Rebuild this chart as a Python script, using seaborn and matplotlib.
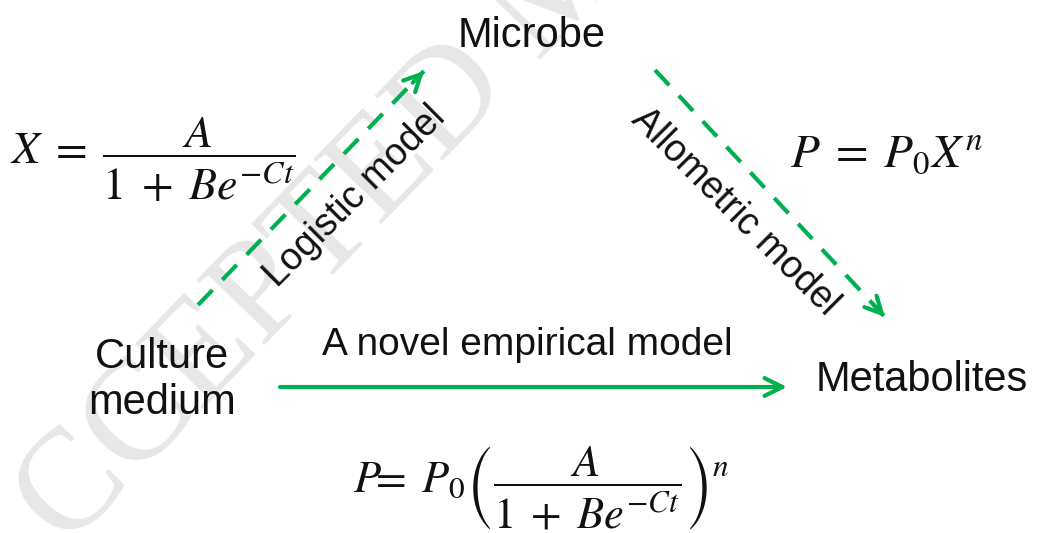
import matplotlib.pyplot as plt
import seaborn as sns

sns.set_theme(style="white")
plt.rcParams["font.family"] = ["Liberation Sans", "DejaVu Sans"]
plt.rcParams["mathtext.fontset"] = "stix"

GREEN = "#00b050"

# nodes of the diagram (pixel coords, y down)
node_names = ["Microbe", "Culture\nmedium", "Metabolites"]
node_xy = [(532, 36), (162, 380), (922, 380)]

# model arrows: start, end, label, label position, label angle, dashed
arrow_starts = [(198, 305), (655, 70), (280, 387)]
arrow_ends = [(424, 71), (885, 317), (787, 387)]
arrow_labels = ["Logistic model", "Allometric model", "A novel empirical model"]
label_xy = [(355, 197), (735, 212), (527, 345)]
label_rot = [45, -45, 0]
label_size = [27, 27, 28]
arrow_dashed = [True, True, False]

# equations
eq_texts = [
    r"$X\;=\;\dfrac{A}{1\;+\;Be^{-Ct}}$",
    r"$P\;=\;P_0X^n$",
    r"$P\!\!=\;P_0\left(\dfrac{A}{1\;+\;Be^{-Ct}}\right)^n$",
]
eq_xy = [(10, 160), (790, 155), (353, 488)]
eq_size = [33, 34, 32]

fig = plt.figure(figsize=(10.38, 5.33), dpi=100)
ax = fig.add_axes([0, 0, 1, 1])
ax.set_xlim(0, 1038)
ax.set_ylim(533, 0)
ax.axis("off")

# faint watermark
ax.text(565, -15, "ACCEPTED MANUSCRIPT", family="Liberation Serif", fontsize=104,
        color="#e7e7e7", rotation=46, ha="center", va="center",
        rotation_mode="anchor", zorder=0)

for name, (x, y) in zip(node_names, node_xy):
    ax.text(x, y, name, fontsize=30, ha="center", va="center",
            linespacing=1.2, color="#111111", zorder=3)

for s, e, lab, lxy, rot, fs, dashed in zip(arrow_starts, arrow_ends, arrow_labels,
                                            label_xy, label_rot, label_size,
                                            arrow_dashed):
    if dashed:
        ax.plot([s[0], e[0]], [s[1], e[1]], color=GREEN, lw=3,
                dashes=(5.0, 3.4), solid_capstyle="butt", zorder=2)
        dx, dy = e[0] - s[0], e[1] - s[1]
        ax.annotate("", xy=e, xytext=(e[0] - dx * 0.05, e[1] - dy * 0.05),
                    arrowprops=dict(arrowstyle="->", color=GREEN, lw=3,
                                    mutation_scale=30, shrinkA=0, shrinkB=0),
                    zorder=2)
    else:
        ax.annotate("", xy=e, xytext=s,
                    arrowprops=dict(arrowstyle="->", color=GREEN, lw=3,
                                    mutation_scale=32, shrinkA=0, shrinkB=0),
                    zorder=2)
    ax.text(lxy[0], lxy[1], lab, fontsize=fs, rotation=rot,
            ha="center", va="center", rotation_mode="anchor",
            color="#111111", zorder=3)

for t, (x, y), fs in zip(eq_texts, eq_xy, eq_size):
    ax.text(x, y, t, fontsize=fs, ha="left", va="center", color="#111111",
            zorder=3)

fig.savefig("out.png", dpi=100)
